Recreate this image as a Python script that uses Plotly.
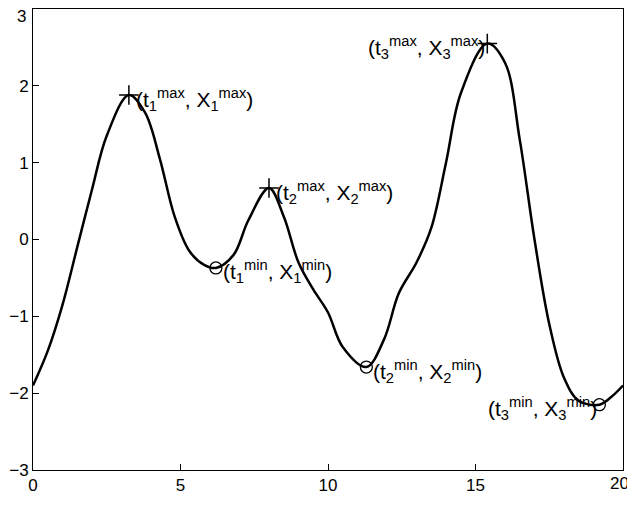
import plotly.graph_objects as go

# curve
t = [0, 0.5, 1, 1.5, 2, 2.5, 3.25, 3.8, 4.3, 4.8, 5.3, 5.8, 6.2, 6.8, 7.3, 8.0, 8.5, 9.0, 9.5,
     10.0, 10.5, 11.3, 11.9, 12.4, 13.0, 13.5, 14.0, 14.5, 15.4, 16.0, 16.5, 17.0, 17.5,
     18.0, 18.5, 19.2, 19.6, 20.0]
x = [-1.9, -1.45, -0.85, -0.1, 0.65, 1.35, 1.88, 1.65, 1.05, 0.3, -0.15, -0.33, -0.37, -0.2,
     0.25, 0.67, 0.3, -0.3, -0.65, -0.95, -1.4, -1.66, -1.3, -0.7, -0.3, 0.15, 1.0, 1.9,
     2.55, 2.3, 1.3, 0.0, -1.1, -1.8, -2.1, -2.15, -2.05, -1.9]

max_t = [3.25, 8.0, 15.4]
max_x = [1.88, 0.67, 2.55]
min_t = [6.2, 11.3, 19.2]
min_x = [-0.37, -1.66, -2.15]

fig = go.Figure()
fig.add_trace(go.Scatter(x=t, y=x, mode="lines", line=dict(color="black", width=2.5, shape="spline", smoothing=1.0)))
fig.add_trace(go.Scatter(x=max_t, y=max_x, mode="markers",
                         marker=dict(symbol="cross-thin-open", size=14, color="black",
                                     line=dict(color="black", width=1.5))))
fig.add_trace(go.Scatter(x=min_t, y=min_x, mode="markers",
                         marker=dict(symbol="circle-open", size=12, color="black", line=dict(width=1.3))))

labels = [
    (max_t[0], max_x[0], "left", "(t<sub>1</sub><sup>max</sup>, X<sub>1</sub><sup>max</sup>)"),
    (max_t[1], max_x[1], "left", "(t<sub>2</sub><sup>max</sup>, X<sub>2</sub><sup>max</sup>)"),
    (max_t[2], max_x[2], "right", "(t<sub>3</sub><sup>max</sup>, X<sub>3</sub><sup>max</sup>)"),
    (min_t[0], min_x[0], "left", "(t<sub>1</sub><sup>min</sup>, X<sub>1</sub><sup>min</sup>)"),
    (min_t[1], min_x[1], "left", "(t<sub>2</sub><sup>min</sup>, X<sub>2</sub><sup>min</sup>)"),
    (min_t[2], min_x[2], "right", "(t<sub>3</sub><sup>min</sup>, X<sub>3</sub><sup>min</sup>)"),
]
for lx, ly, side, txt in labels:
    fig.add_annotation(x=lx, y=ly, text=txt, showarrow=False,
                       xanchor="left" if side == "left" else "right",
                       xshift=5 if side == "left" else 0, yshift=-4,
                       font=dict(size=21, color="black", family="Liberation Sans"))

tick_font = dict(size=17, color="black", family="Liberation Sans")
# edge tick labels would be clipped by the page edge, so draw them just inside
fig.add_annotation(x=0, xref="paper", y=3, yref="y", text="3", showarrow=False,
                   xanchor="right", yanchor="top", xshift=-5, yshift=4, font=tick_font)
fig.add_annotation(x=20, xref="x", y=0, yref="paper", text="20", showarrow=False,
                   xanchor="right", yanchor="top", xshift=8, yshift=-2, font=tick_font)

ax = dict(showgrid=False, zeroline=False, showline=True, mirror=True, linecolor="black",
          linewidth=1, ticks="inside", ticklen=6, tickcolor="black", automargin=False,
          tickfont=tick_font)
fig.update_layout(width=627, height=502, showlegend=False, plot_bgcolor="white", paper_bgcolor="white",
                  margin=dict(l=25, r=12, t=1, b=40),
                  xaxis=dict(range=[0, 20], tickvals=[0, 5, 10, 15], **ax),
                  yaxis=dict(range=[-3, 3], tickvals=[-3, -2, -1, 0, 1, 2], **ax))
fig.write_html("out.html")
